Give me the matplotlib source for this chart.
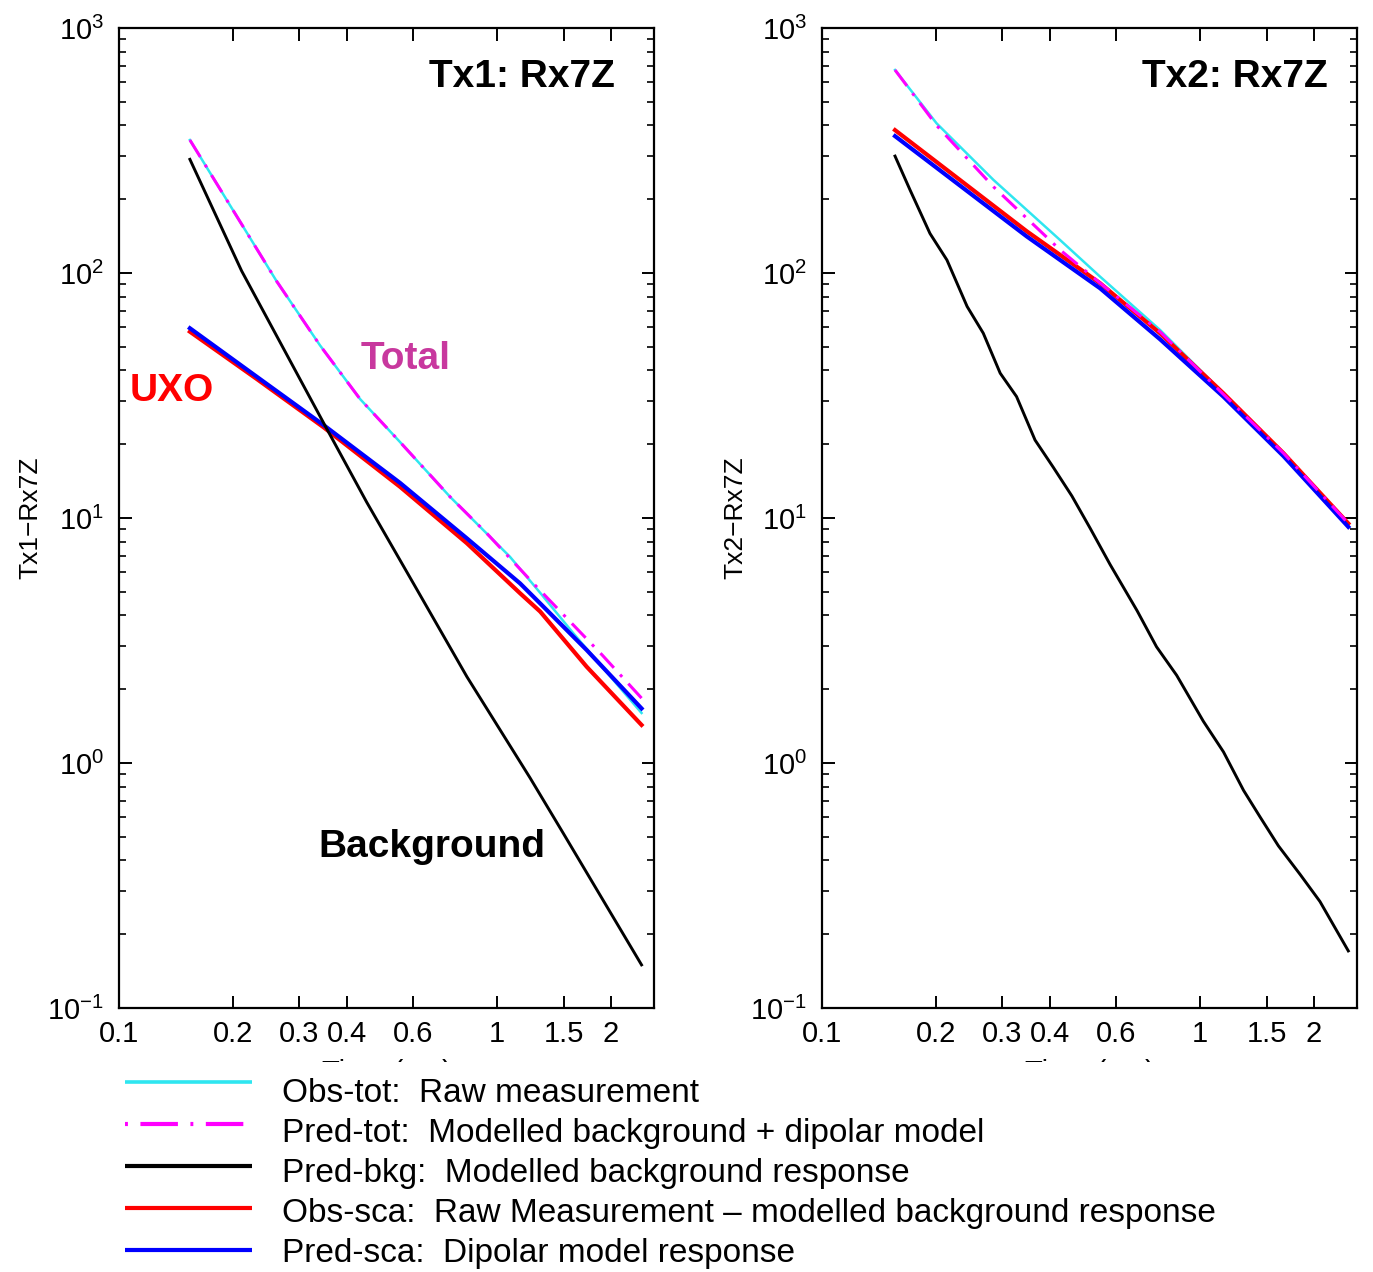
import numpy as np
import matplotlib
matplotlib.use('Agg')
import matplotlib.pyplot as plt
from matplotlib.ticker import FixedLocator, FixedFormatter, LogLocator, NullFormatter, NullLocator

# Tx1 : Rx7Z decays
t_tot_1 = [0.154, 0.2, 0.261, 0.34, 0.434, 0.554, 0.751, 1.081, 1.30, 1.592, 2.41]
obs_tot_1 = [349, 181, 92.7, 50.7, 30.6, 20.4, 12.2, 6.95, 4.95, 3.38, 1.60]
t_ptot_1 = [0.154, 0.2, 0.261, 0.34, 0.434, 0.554, 0.751, 0.939, 1.247, 1.9, 2.41]
pred_tot_1 = [349, 181, 92.7, 50.7, 30.6, 20.4, 12.2, 8.66, 5.41, 2.75, 1.84]
t_bkg_1 = [0.154, 0.211, 0.354, 0.452, 0.601, 0.832, 1.222, 1.497, 2.41]
pred_bkg_1 = [291, 102, 23.2, 11.6, 5.4, 2.25, 0.87, 0.516, 0.150]
t_sca_1 = [0.154, 0.231, 0.347, 0.554, 0.831, 1.15, 1.30, 1.726, 2.41]
obs_sca_1 = [57.6, 37.0, 23.5, 13.4, 7.9, 4.93, 4.15, 2.47, 1.43]
pred_sca_1 = [59.5, 37.8, 24.0, 13.9, 8.27, 5.41, 4.48, 2.89, 1.67]

# Tx2 : Rx7Z decays
t_tot_2 = [0.156, 0.201, 0.284, 0.427, 0.544, 0.784, 1.152, 1.661, 2.466]
obs_tot_2 = [674, 408, 240, 136, 96.6, 58.5, 32.3, 18.4, 9.5]
pred_tot_2 = [674, 400, 225, 124, 91, 57.5, 32.0, 18.4, 9.5]
t_sca_2 = [0.156, 0.348, 0.544, 0.784, 1.152, 1.661, 2.466]
obs_sca_2 = [383, 148, 90.8, 56.7, 32.3, 18.4, 9.5]
pred_sca_2 = [362, 141, 86.6, 53.6, 31.3, 17.9, 9.2]
t_bkg_2 = [0.156, 0.171, 0.193, 0.214, 0.242, 0.267, 0.296, 0.327, 0.366, 0.409, 0.458,
           0.512, 0.578, 0.681, 0.767, 0.867, 1.02, 1.153, 1.303, 1.442, 1.611, 1.841,
           2.075, 2.466]
pred_bkg_2 = [300, 218, 145, 113, 73, 56.8, 39, 31.3, 20.8, 16.1, 12.3,
              9.08, 6.46, 4.19, 2.98, 2.28, 1.48, 1.11, 0.773, 0.601, 0.459, 0.350,
              0.272, 0.171]

xtick_vals = [0.1, 0.2, 0.3, 0.4, 0.6, 1, 1.5, 2]
xtick_labels = ['0.1', '0.2', '0.3', '0.4', '0.6', '1', '1.5', '2']

legend_labels = ['Obs-tot:  Raw measurement',
                 'Pred-tot:  Modelled background + dipolar model',
                 'Pred-bkg:  Modelled background response',
                 'Obs-sca:  Raw Measurement \u2013 modelled background response',
                 'Pred-sca:  Dipolar model response']

CYAN, MAG, BLK, RED, BLU = '#2EE6F0', '#FF00FF', 'black', '#FF0000', '#0000FF'

narrow = ['Liberation Sans Narrow', 'Liberation Sans', 'DejaVu Sans']
plt.rcParams['font.family'] = narrow
plt.rcParams['mathtext.fontset'] = 'custom'
plt.rcParams['mathtext.rm'] = 'Liberation Sans Narrow'
plt.rcParams['axes.unicode_minus'] = True

W, H = 1373, 1272
fig = plt.figure(figsize=(W / 100, H / 100), dpi=100)
ax1 = fig.add_axes([119 / W, 1 - 1008 / H, 535 / W, 980 / H])
ax2 = fig.add_axes([822 / W, 1 - 1008 / H, 535 / W, 980 / H])


def draw_panel(ax, t_tot, obs_tot, t_ptot, pred_tot, t_bkg, pred_bkg, t_sca, obs_sca, pred_sca):
    ax.plot(t_tot, obs_tot, color=CYAN, lw=1.8, zorder=3)
    ax.plot(t_ptot, pred_tot, color=MAG, lw=2.2, ls=(0, (6.5, 3.0, 1.0, 3.0)), zorder=4)
    ax.plot(t_sca, obs_sca, color=RED, lw=3.0, zorder=3)
    ax.plot(t_sca, pred_sca, color=BLU, lw=3.0, zorder=3)
    ax.plot(t_bkg, pred_bkg, color=BLK, lw=2.1, zorder=5)


def style_axes(ax, ylabel, ylab_x):
    ax.set_xscale('log')
    ax.set_yscale('log')
    ax.set_xlim(0.1, 2.6)
    ax.set_ylim(0.1, 1000)
    ax.xaxis.set_major_locator(FixedLocator(xtick_vals))
    ax.xaxis.set_major_formatter(FixedFormatter(xtick_labels))
    ax.xaxis.set_minor_locator(NullLocator())
    ax.yaxis.set_major_locator(LogLocator(base=10))
    ax.yaxis.set_minor_locator(LogLocator(base=10, subs=range(2, 10)))
    ax.yaxis.set_minor_formatter(NullFormatter())
    ax.tick_params(which='both', direction='in', top=True, right=True, labelsize=21)
    ax.tick_params(which='major', length=9, width=1.4)
    ax.tick_params(which='minor', length=5, width=1.2)
    ax.tick_params(axis='x', pad=9)
    ax.tick_params(axis='y', pad=11)
    for s in ax.spines.values():
        s.set_linewidth(1.6)
    ax.set_xlabel('Time (ms)', fontsize=21)
    ax.xaxis.set_label_coords(0.5, -0.052)
    ax.set_ylabel(ylabel, fontsize=19, family=['Liberation Sans', 'DejaVu Sans'])
    ax.yaxis.set_label_coords(ylab_x, 0.5)


draw_panel(ax1, t_tot_1, obs_tot_1, t_ptot_1, pred_tot_1, t_bkg_1, pred_bkg_1,
           t_sca_1, obs_sca_1, pred_sca_1)
draw_panel(ax2, t_tot_2, obs_tot_2, t_tot_2, pred_tot_2, t_bkg_2, pred_bkg_2,
           t_sca_2, obs_sca_2, pred_sca_2)
style_axes(ax1, 'Tx1\u2212Rx7Z', -0.144)
style_axes(ax2, 'Tx2\u2212Rx7Z', -0.140)

bold = dict(fontsize=28, fontweight='bold', family=['Liberation Sans', 'DejaVu Sans'])
ax1.text(0.927, 0.950, 'Tx1: Rx7Z', transform=ax1.transAxes, ha='right', va='center', **bold)
ax2.text(0.946, 0.950, 'Tx2: Rx7Z', transform=ax2.transAxes, ha='right', va='center', **bold)
ax1.text(0.020, 0.630, 'UXO', transform=ax1.transAxes, ha='left', va='center', color=RED, **bold)
ax1.text(0.452, 0.662, 'Total', transform=ax1.transAxes, ha='left', va='center', color='#C8389E', **bold)
ax1.text(0.372, 0.164, 'Background', transform=ax1.transAxes, ha='left', va='center', **bold)

# legend block drawn over the lower strip (hides most of the x labels)
top = 1062
leg = fig.add_axes([0, 0, 1, (H - top) / H])
leg.set_xlim(0, W)
leg.set_ylim(H, top)
leg.set_xticks([])
leg.set_yticks([])
for s in leg.spines.values():
    s.set_visible(False)
leg.set_facecolor('white')

styles = [dict(color=CYAN, lw=2.6),
          dict(color=MAG, lw=3.0, ls=(0, (0.7, 3, 9, 3))),
          dict(color=BLK, lw=3.0),
          dict(color=RED, lw=3.0),
          dict(color=BLU, lw=3.0)]
for i, (lab, st) in enumerate(zip(legend_labels, styles)):
    y = 1082 + 42 * i
    leg.plot([125, 252], [y, y], solid_capstyle='butt', **st)
    leg.text(282, 1094 + 40 * i, lab, ha='left', va='center', fontsize=24,
             family=['Liberation Sans', 'DejaVu Sans'])

fig.savefig('out.png', dpi=100, facecolor='white')
